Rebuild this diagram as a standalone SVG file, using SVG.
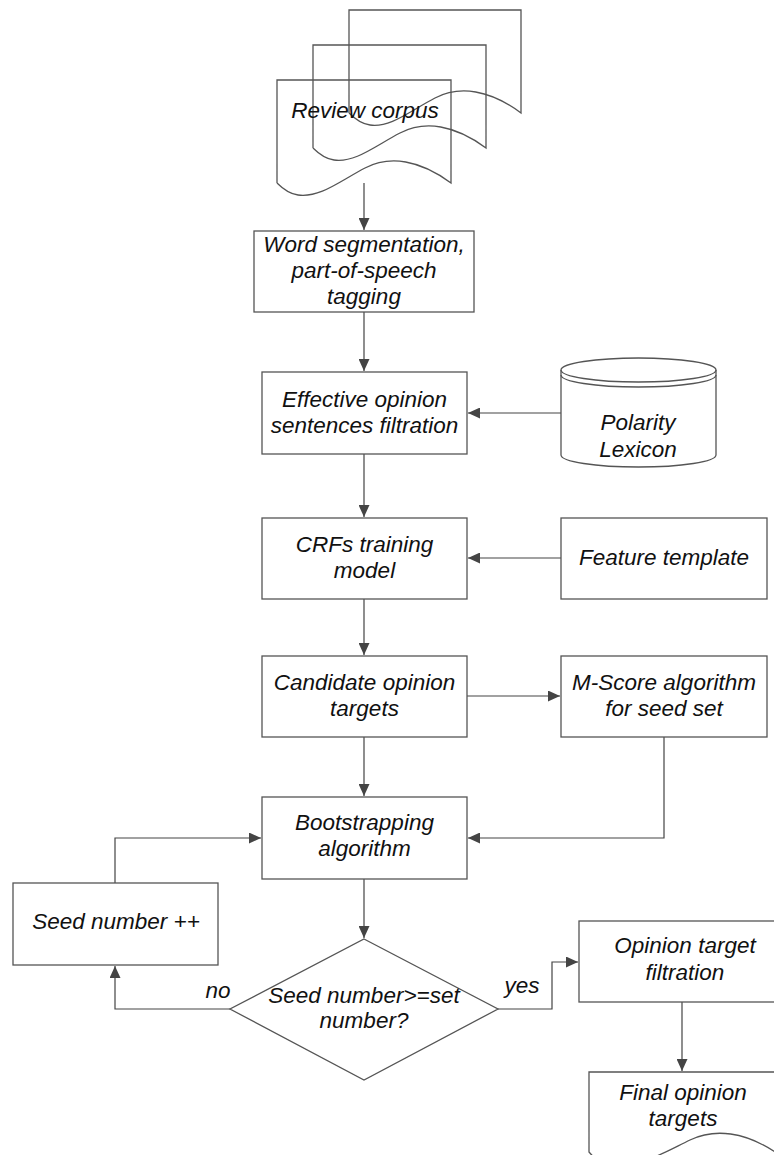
<svg xmlns="http://www.w3.org/2000/svg" width="774" height="1155" viewBox="0 0 774 1155">
<defs>
<style>
.shape{fill:none;stroke:#555;stroke-width:1.3}
.box{fill:#fff;stroke:#555;stroke-width:1.3}
.conn{fill:none;stroke:#444;stroke-width:1.2}
.t{font-family:"Liberation Sans",Arial,sans-serif;font-style:italic;font-size:22.5px;fill:#111;text-anchor:middle}
</style>
<marker id="ah" viewBox="0 0 12 11" refX="12" refY="5.5" markerWidth="12" markerHeight="11" markerUnits="userSpaceOnUse" orient="auto">
<path d="M0,0 L12,5.5 L0,11 Z" fill="#444"/>
</marker>
</defs>
<rect width="774" height="1155" fill="#fff"/>

<g id="connectors">
<line class="conn" x1="364" y1="183" x2="364" y2="230" marker-end="url(#ah)"/>
<line class="conn" x1="364" y1="312" x2="364" y2="371" marker-end="url(#ah)"/>
<line class="conn" x1="561" y1="413" x2="468" y2="413" marker-end="url(#ah)"/>
<line class="conn" x1="364" y1="454" x2="364" y2="517" marker-end="url(#ah)"/>
<line class="conn" x1="561" y1="558" x2="468" y2="558" marker-end="url(#ah)"/>
<line class="conn" x1="364" y1="599" x2="364" y2="655" marker-end="url(#ah)"/>
<line class="conn" x1="467" y1="696" x2="560" y2="696" marker-end="url(#ah)"/>
<line class="conn" x1="364" y1="737" x2="364" y2="796" marker-end="url(#ah)"/>
<polyline class="conn" points="664,737 664,838 468,838" marker-end="url(#ah)"/>
<polyline class="conn" points="115,883 115,838 261,838" marker-end="url(#ah)"/>
<line class="conn" x1="364" y1="879" x2="364" y2="938" marker-end="url(#ah)"/>
<polyline class="conn" points="230,1009 115,1009 115,966" marker-end="url(#ah)"/>
<polyline class="conn" points="498,1009 552,1009 552,962 578,962" marker-end="url(#ah)"/>
<line class="conn" x1="682" y1="1002" x2="682" y2="1071" marker-end="url(#ah)"/>
</g>

<g id="review-corpus">
<path class="shape" d="M349,113 L349,10 L521,10 L521,113 C490,90 460,85 435,98 C410,111 390,128 370,125 C362,124 355,119 349,113"/>
<path class="shape" d="M313,148 L313,45 L486,45 L486,148 C455,125 425,120 400,133 C375,146 355,163 334,160 C326,159 319,154 313,148"/>
<path class="shape" d="M277,183 L277,80 L451,80 L451,183 C420,160 390,155 365,168 C340,181 320,198 298,195 C290,194 283,189 277,183"/>
<text class="t" x="365" y="118">Review corpus</text>
</g>

<g id="word-segmentation">
<rect class="box" x="254" y="231" width="220" height="81"/>
<text class="t" x="364" y="252">Word segmentation,</text>
<text class="t" x="364" y="278">part-of-speech</text>
<text class="t" x="364" y="304">tagging</text>
</g>

<g id="effective-filtration">
<rect class="box" x="262" y="372" width="205" height="82"/>
<text class="t" x="364.5" y="407">Effective opinion</text>
<text class="t" x="364.5" y="433">sentences filtration</text>
</g>

<g id="polarity-lexicon">
<path class="box" d="M561,370 L561,455 A77.5,12 0 0 0 716,455 L716,370 A77.5,12 0 0 0 561,370 Z"/>
<path class="shape" d="M561,370 A77.5,12 0 0 0 716,370"/>
<path class="shape" d="M561,375 A77.5,12 0 0 0 716,375"/>
<text class="t" x="638" y="430">Polarity</text>
<text class="t" x="638" y="457">Lexicon</text>
</g>

<g id="crfs-training">
<rect class="box" x="262" y="518" width="205" height="81"/>
<text class="t" x="364.5" y="552">CRFs training</text>
<text class="t" x="364.5" y="578">model</text>
</g>

<g id="feature-template">
<rect class="box" x="561" y="518" width="206" height="81"/>
<text class="t" x="664" y="565">Feature template</text>
</g>

<g id="candidate-targets">
<rect class="box" x="262" y="656" width="205" height="81"/>
<text class="t" x="364.5" y="690">Candidate opinion</text>
<text class="t" x="364.5" y="716">targets</text>
</g>

<g id="m-score">
<rect class="box" x="561" y="656" width="206" height="81"/>
<text class="t" x="664" y="690">M-Score algorithm</text>
<text class="t" x="664" y="716">for seed set</text>
</g>

<g id="bootstrapping">
<rect class="box" x="262" y="797" width="205" height="82"/>
<text class="t" x="364.5" y="830">Bootstrapping</text>
<text class="t" x="364.5" y="856">algorithm</text>
</g>

<g id="seed-number">
<rect class="box" x="13" y="883" width="205" height="82"/>
<text class="t" x="116" y="929">Seed number ++</text>
</g>

<g id="decision">
<polygon class="box" points="364,939 498,1009 364,1080 230,1009"/>
<text class="t" x="364" y="1003">Seed number&gt;=set</text>
<text class="t" x="364" y="1028">number?</text>
</g>

<g id="labels">
<text class="t" x="218" y="998">no</text>
<text class="t" x="522" y="993">yes</text>
</g>

<g id="opinion-filtration">
<rect class="box" x="579" y="921" width="206" height="81"/>
<text class="t" x="685" y="953">Opinion target</text>
<text class="t" x="685" y="980">filtration</text>
</g>

<g id="final-targets">
<path class="box" d="M589,1152 L589,1072 L775,1072 L775,1152 C745,1132 715,1128 690,1140 C665,1152 640,1168 610,1165 C600,1163 594,1158 589,1152 Z"/>
<text class="t" x="683" y="1100">Final opinion</text>
<text class="t" x="683" y="1126">targets</text>
</g>
</svg>
